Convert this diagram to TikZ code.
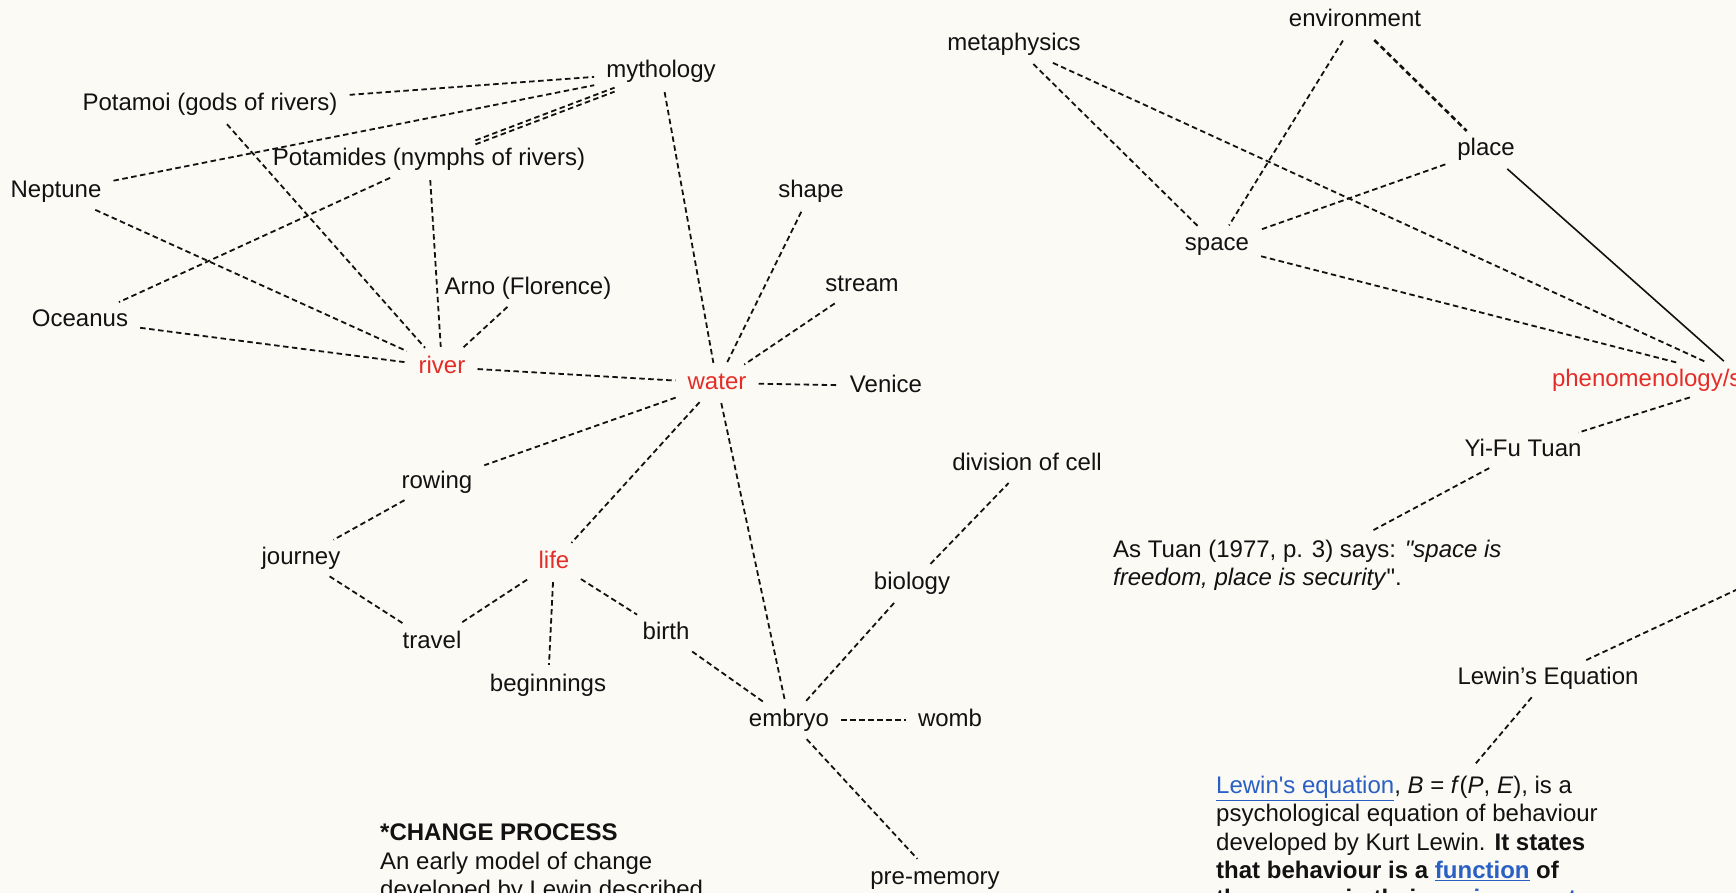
\documentclass[tikz,border=0pt]{standalone}
\usepackage{fontspec}
\setmainfont{Liberation Sans}[Ligatures=TeXOff]
\definecolor{paper}{RGB}{252,250,245}
\definecolor{ink}{RGB}{18,18,18}
\definecolor{keyred}{RGB}{228,45,40}
\definecolor{linkblue}{RGB}{42,95,196}
\newcommand\weblink[1]{\textcolor{linkblue}{\underline{#1}}}
\begin{document}
\begin{tikzpicture}[x=1pt,y=-1pt,
  lbl/.style={font=\fontsize{24}{28}\selectfont, text=ink, inner xsep=8pt, inner ysep=5pt, text height=17pt, text depth=5pt},
  key/.style={lbl, text=keyred},
  link/.style={draw=ink, line width=1.8pt, dash pattern=on 5.5pt off 3.5pt, shorten <=4pt, shorten >=4pt},
  heavylink/.style={link, line width=2.6pt},
  solidlink/.style={draw=ink, line width=1.6pt, shorten <=4pt, shorten >=4pt},
  para/.style={font=\fontsize{24}{28.3}\selectfont, text=ink, align=left, inner sep=8pt, anchor=north west},
]
\fill[paper] (0,0) rectangle (1736,893);
\useasboundingbox (0,0) rectangle (1736,893);

% --- water / myth cluster
\node[lbl] (myth) at (661,72) {mythology};
\node[lbl] (potamoi) at (210,105) {Potamoi (gods of rivers)};
\node[lbl] (potamides) at (429,160) {Potamides (nymphs of rivers)};
\node[lbl] (neptune) at (56,192) {Neptune};
\node[lbl] (oceanus) at (80,320) {Oceanus};
\node[lbl] (arno) at (528,288) {Arno (Florence)};
\node[key] (river) at (442,367) {river};
\node[key] (water) at (717,383) {water};
\node[lbl] (venice) at (886,386) {Venice};
\node[lbl] (shape) at (811,192) {shape};
\node[lbl] (stream) at (862,285) {stream};
\node[lbl] (rowing) at (437,482) {rowing};
\node[lbl] (journey) at (301,558) {journey};
\node[key] (life) at (554,562) {life};
\node[lbl] (travel) at (432,642) {travel};
\node[lbl] (beginnings) at (548,685) {beginnings};
\node[lbl] (birth) at (666,633) {birth};
\node[lbl] (embryo) at (789,720) {embryo};
\node[lbl] (womb) at (950,720) {womb};
\node[lbl] (biology) at (912,583) {biology};
\node[lbl] (division) at (1027,464) {division of cell};
\node[lbl] (premem) at (935,878) {pre-memory};

\node[para] (change) at (372,816) {\textbf{*CHANGE PROCESS}\\
An early model of change\\
developed by Lewin described};

% --- space / place cluster
\node[lbl] (env) at (1355,21) {environment};
\node[lbl] (meta) at (1014,45) {metaphysics};
\node[lbl] (place) at (1486,150) {place};
\node[lbl] (space) at (1217,245) {space};
\node[key, text width=386pt, align=left] (phen) at (1745,380) {phenomenology/s};
\node[lbl] (yifu) at (1523,450) {Yi-Fu Tuan};
\node[para] (quote) at (1105,532) {As Tuan (1977, p. 3) says: \textit{"space is}\\
\textit{freedom, place is security}".};
\node[lbl] (lewin) at (1548,678) {Lewin’s Equation};
\coordinate (offright) at (1800,560);
\node[para] (lewinpara) at (1208,768) {\weblink{Lewin's equation}, \textit{B} = \textit{f}(\textit{P}, \textit{E}), is a\\
psychological equation of behaviour\\
developed by Kurt Lewin. \textbf{It states}\\
\textbf{that behaviour is a \weblink{function} of}\\
\textbf{the \weblink{person} in their \weblink{environment}}};

% --- connectors, left
\draw[link] (potamoi) -- (myth);
\draw[link, transform canvas={yshift=2pt}] (potamides) -- (myth);
\draw[link, transform canvas={yshift=-2pt}] (potamides) -- (myth);
\draw[link] (neptune) -- (myth);
\draw[link] (potamoi) -- (river);
\draw[link] (neptune) -- (river);
\draw[link] (potamides) -- (oceanus);
\draw[link] (potamides) -- (river);
\draw[link] (arno) -- (river);
\draw[link] (oceanus) -- (river);
\draw[link] (myth) -- (water);
\draw[link] (river) -- (water);
\draw[link] (shape) -- (water);
\draw[link] (stream) -- (water);
\draw[link] (water) -- (venice);
\draw[link] (water) -- (rowing);
\draw[link] (water) -- (life);
\draw[link] (water) -- (embryo);
\draw[link] (rowing) -- (journey);
\draw[link] (journey) -- (travel);
\draw[link] (life) -- (travel);
\draw[link] (life) -- (beginnings);
\draw[link] (life) -- (birth);
\draw[link] (birth) -- (embryo);
\draw[link] (embryo) -- (womb);
\draw[link] (embryo) -- (biology);
\draw[link] (biology) -- (division);
\draw[link] (embryo) -- (premem);

% --- connectors, right
\draw[link] (meta) -- (space);
\draw[link] (meta) -- (phen);
\draw[link] (env) -- (space);
\draw[heavylink] (env) -- (place);
\draw[link] (place) -- (space);
\draw[solidlink] (place) -- (phen);
\draw[link] (space) -- (phen);
\draw[link] (phen) -- (yifu);
\draw[link] (yifu) -- (quote);
\draw[link] (lewin) -- (offright);
\draw[link] (lewin) -- (lewinpara);
\end{tikzpicture}
\end{document}
